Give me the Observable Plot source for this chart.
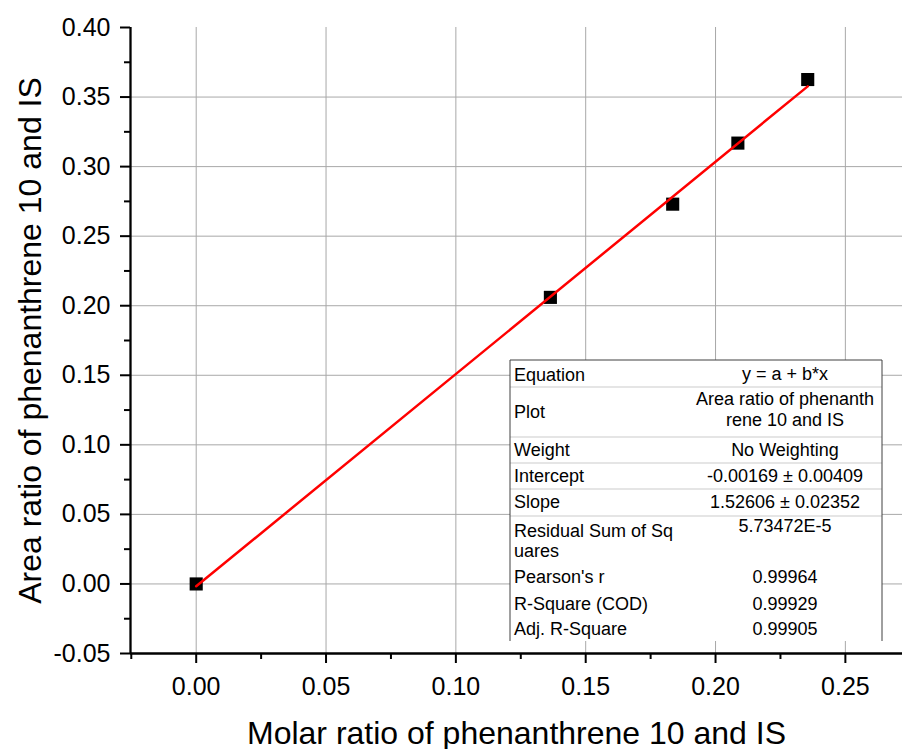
<!DOCTYPE html>
<html><head><meta charset="utf-8">
<script src="https://cdn.jsdelivr.net/npm/d3@7"></script>
<script src="https://cdn.jsdelivr.net/npm/@observablehq/plot@0.6"></script>
<style>body{margin:0;background:#fff;} #chart{width:902px;height:749px;}</style>
</head><body><div id="chart"></div>
<script>
// ---- data ----
const molarRatio = [0, 0.1364, 0.1835, 0.2086, 0.2355];
const areaRatio = [0, 0.206, 0.273, 0.3169, 0.3626];
const fitIntercept = -0.00169;
const fitSlope = 1.52606;
const xTickValues = [0, 0.05, 0.10, 0.15, 0.20, 0.25];
const xMinorTicks = [-0.025, 0.025, 0.075, 0.125, 0.175, 0.225];
const yTickValues = [-0.05, 0, 0.05, 0.10, 0.15, 0.20, 0.25, 0.30, 0.35, 0.40];
const yMinorTicks = [-0.025, 0.025, 0.075, 0.125, 0.175, 0.225, 0.275, 0.325, 0.375];
const xTitle = "Molar ratio of phenanthrene 10 and IS";
const yTitle = "Area ratio of phenanthrene 10 and IS";
const tableLabels = [["Equation"], ["Plot"], ["Weight"], ["Intercept"], ["Slope"], ["Residual Sum of Sq", "uares"], ["Pearson's r"], ["R-Square (COD)"], ["Adj. R-Square"]];
const tableValues = [["y = a + b*x"], ["Area ratio of phenanth", "rene 10 and IS"], ["No Weighting"], ["-0.00169 ± 0.00409"], ["1.52606 ± 0.02352"], ["5.73472E-5"], ["0.99964"], ["0.99929"], ["0.99905"]];

const points = molarRatio.map((x, i) => ({x, y: areaRatio[i]}));
const fit = [0, d3.max(molarRatio)].map(x => ({x, y: fitIntercept + fitSlope * x}));
const fmt = d => d.toFixed(2);
const xDomain = [-0.0253, 0.272];
const yDomain = [-0.05, 0.40];
const FONT = "'Liberation Sans', Arial, Helvetica, sans-serif";

const chart = Plot.plot({
  width: 902, height: 749,
  marginLeft: 130, marginRight: 0, marginTop: 27, marginBottom: 96,
  style: {fontFamily: FONT, background: "#fff", color: "#000", overflow: "visible"},
  x: {domain: xDomain},
  y: {domain: yDomain},
  marks: [
    Plot.gridX(xTickValues, {stroke: "#a8a8a8", strokeOpacity: 1, strokeWidth: 1}),
    Plot.gridY(yTickValues.filter(v => v > yDomain[0] && v < yDomain[1]), {stroke: "#a8a8a8", strokeOpacity: 1, strokeWidth: 1}),
    Plot.ruleX([xDomain[0]], {stroke: "#000", strokeWidth: 2.3}),
    Plot.ruleY([yDomain[0]], {stroke: "#000", strokeWidth: 2.3}),
    Plot.axisX(xTickValues, {tickSize: 10, tickPadding: 14, tickFormat: fmt, fontSize: 25, strokeWidth: 2, label: null}),
    Plot.axisX(xMinorTicks, {tickSize: 6, tickFormat: () => "", strokeWidth: 2, label: null}),
    Plot.axisY(yTickValues, {tickSize: 10, tickPadding: 10, tickFormat: fmt, fontSize: 25, strokeWidth: 2, label: null}),
    Plot.axisY(yMinorTicks, {tickSize: 6, tickFormat: () => "", strokeWidth: 2, label: null}),
    Plot.dot(points, {x: "x", y: "y", symbol: "square", r: 7.4, fill: "#000"}),
    Plot.line(fit, {x: "x", y: "y", stroke: "#ff0000", strokeWidth: 2.5}),
    Plot.text([xTitle], {text: d => d, frameAnchor: "bottom", dy: 80, fontSize: 32, lineAnchor: "middle", textAnchor: "middle"}),
    Plot.text([yTitle], {text: d => d, frameAnchor: "left", dx: -100, rotate: -90, fontSize: 32, lineAnchor: "middle", textAnchor: "middle"})
  ]
});
document.getElementById("chart").appendChild(chart);

// ---- fit statistics table (annotation) ----
const box = {x0: 510, x1: 882, y0: 360};
const rowHeights = [27, 50, 26, 26, 27, 50, 26.5, 26.5, 22];
const labelOffsets = [[20.5], [31], [18.5], [18.5], [18.5], [20.7, 40.7], [17.3], [17.5], [16]];
const valueOffsets = [[19.5], [18, 39], [18.5], [18.5], [18.5], [15.7], [17.3], [17.5], [16]];
const rowTops = [];
let acc = box.y0;
rowHeights.forEach(h => { rowTops.push(acc); acc += h; });
const y1 = acc;
const svg = d3.select(chart);
const g = svg.append("g").attr("font-family", FONT).attr("font-size", 18).attr("fill", "#000");
g.append("rect").attr("x", box.x0).attr("y", box.y0).attr("width", box.x1 - box.x0).attr("height", y1 - box.y0).attr("fill", "#fff");
for (let i = 0; i < 5; i++) {
  const yy = rowTops[i] + rowHeights[i];
  g.append("line").attr("x1", box.x0).attr("x2", box.x1).attr("y1", yy).attr("y2", yy).attr("stroke", "#dcdcdc").attr("stroke-width", 1.5);
}
g.append("path").attr("d", `M${box.x0},${y1}V${box.y0}H${box.x1}V${y1}`).attr("fill", "none").attr("stroke", "#404040").attr("stroke-width", 1);
tableLabels.forEach((lines, i) => {
  lines.forEach((t, j) => g.append("text").attr("x", 514).attr("text-anchor", "start").attr("y", rowTops[i] + labelOffsets[i][j]).text(t));
});
tableValues.forEach((lines, i) => {
  lines.forEach((t, j) => g.append("text").attr("x", 785).attr("text-anchor", "middle").attr("y", rowTops[i] + valueOffsets[i][j]).text(t));
});
</script>
</body></html>
